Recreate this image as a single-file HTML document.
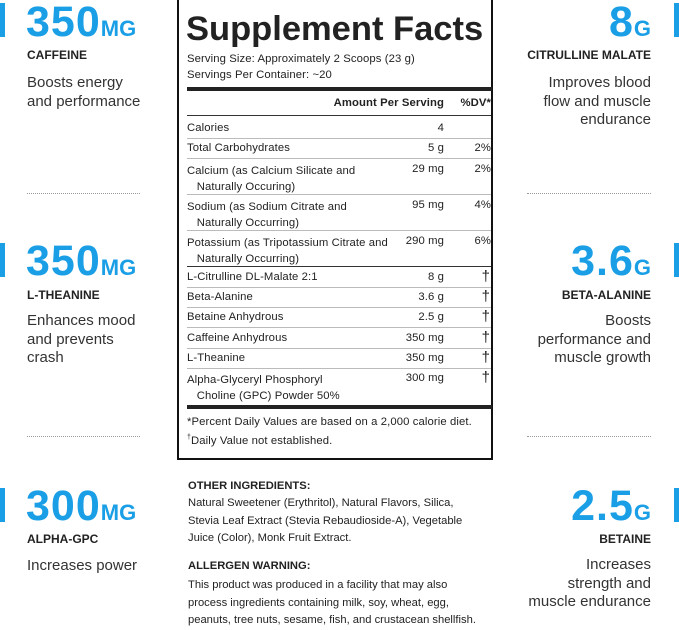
<!DOCTYPE html>
<html><head><meta charset="utf-8"><style>
*{margin:0;padding:0;box-sizing:border-box}
body{width:679px;height:624px;background:#fff;position:relative;overflow:hidden;font-family:"Liberation Sans",sans-serif;color:#222}
.a{position:absolute;white-space:nowrap}
.big{font-weight:bold;color:#1a9fe6;font-size:43px;letter-spacing:1px;line-height:42px}
.big small{font-size:22px;letter-spacing:0}
.bar{position:absolute;width:5px;height:34px;background:#1a9fe6}
.nm{font-weight:bold;font-size:12px;color:#222}
.ds{font-size:15px;line-height:18.5px;color:#333}
.r{text-align:right}
.dot{position:absolute;height:0;border-top:1px dotted #999}
.lab{position:absolute;left:177px;top:-3px;width:316px;height:463px;border:2px solid #111}
.t{font-size:11.3px;color:#222;letter-spacing:0.1px}
.ln{position:absolute;left:187px;width:304px;height:1px;background:#bbb}
.b{font-size:11.2px;letter-spacing:0}
</style></head><body>
<div class="bar" style="left:0;top:3px"></div>
<div class="a big" style="left:26px;top:1px">350<small>MG</small></div>
<div class="a nm" style="left:27px;top:48px">CAFFEINE</div>
<div class="a ds" style="left:27px;top:74px">Boosts energy<br>and performance</div>
<div class="dot" style="left:27px;width:113px;top:193px"></div>
<div class="bar" style="left:0;top:243px"></div>
<div class="a big" style="left:26px;top:240px">350<small>MG</small></div>
<div class="a nm" style="left:27px;top:288px">L-THEANINE</div>
<div class="a ds" style="left:27px;top:312px">Enhances mood<br>and prevents<br>crash</div>
<div class="dot" style="left:27px;width:113px;top:436px"></div>
<div class="bar" style="left:0;top:488px"></div>
<div class="a big" style="left:26px;top:485px">300<small>MG</small></div>
<div class="a nm" style="left:27px;top:532px">ALPHA-GPC</div>
<div class="a ds" style="left:27px;top:557px">Increases power</div>

<div class="bar" style="left:674px;top:3px"></div>
<div class="a big r" style="right:28px;top:1px">8<small>G</small></div>
<div class="a nm r" style="right:28px;top:48px">CITRULLINE MALATE</div>
<div class="a ds r" style="right:28px;top:74px">Improves blood<br>flow and muscle<br>endurance</div>
<div class="dot" style="left:527px;width:124px;top:193px"></div>
<div class="bar" style="left:674px;top:243px"></div>
<div class="a big r" style="right:28px;top:240px">3.6<small>G</small></div>
<div class="a nm r" style="right:28px;top:288px">BETA-ALANINE</div>
<div class="a ds r" style="right:28px;top:312px">Boosts<br>performance and<br>muscle growth</div>
<div class="dot" style="left:527px;width:124px;top:436px"></div>
<div class="bar" style="left:674px;top:488px"></div>
<div class="a big r" style="right:28px;top:485px">2.5<small>G</small></div>
<div class="a nm r" style="right:28px;top:532px">BETAINE</div>
<div class="a ds r" style="right:28px;top:556px">Increases<br>strength and<br>muscle endurance</div>

<div class="lab"></div>
<div class="a" style="left:186px;top:10px;font-size:34.5px;font-weight:bold;color:#222">Supplement Facts</div>
<div class="a t" style="left:187px;top:53px">Serving Size: Approximately 2 Scoops (23 g)</div>
<div class="a t" style="left:187px;top:69px">Servings Per Container: ~20</div>
<div style="position:absolute;left:187px;top:87px;width:305px;height:4px;background:#222"></div>
<div class="a t" style="right:235px;top:97px;font-weight:bold">Amount Per Serving</div>
<div class="a t" style="right:188px;top:97px;font-weight:bold">%DV*</div>
<div class="ln" style="top:115px;background:#333"></div>

<div class="a t" style="left:187px;top:122px">Calories</div><div class="a t" style="right:235px;top:122px">4</div>
<div class="ln" style="top:138px"></div>
<div class="a t" style="left:187px;top:142px">Total Carbohydrates</div><div class="a t" style="right:235px;top:142px">5 g</div><div class="a t" style="right:188px;top:142px">2%</div>
<div class="ln" style="top:158px"></div>
<div class="a t" style="left:187px;top:163px;line-height:16px">Calcium (as Calcium Silicate and<br>&nbsp;&nbsp;&nbsp;Naturally Occuring)</div><div class="a t" style="right:235px;top:163px">29 mg</div><div class="a t" style="right:188px;top:163px">2%</div>
<div class="ln" style="top:194px"></div>
<div class="a t" style="left:187px;top:199px;line-height:16px">Sodium (as Sodium Citrate and<br>&nbsp;&nbsp;&nbsp;Naturally Occurring)</div><div class="a t" style="right:235px;top:199px">95 mg</div><div class="a t" style="right:188px;top:199px">4%</div>
<div class="ln" style="top:230px"></div>
<div class="a t" style="left:187px;top:235px;line-height:16px">Potassium (as Tripotassium Citrate and<br>&nbsp;&nbsp;&nbsp;Naturally Occurring)</div><div class="a t" style="right:235px;top:235px">290 mg</div><div class="a t" style="right:188px;top:235px">6%</div>
<div class="ln" style="top:266px;background:#333"></div>
<div class="a t" style="left:187px;top:271px">L-Citrulline DL-Malate 2:1</div><div class="a t" style="right:235px;top:271px">8 g</div><div class="a" style="right:189px;top:268px;font-size:15px">†</div>
<div class="ln" style="top:287px"></div>
<div class="a t" style="left:187px;top:291px">Beta-Alanine</div><div class="a t" style="right:235px;top:291px">3.6 g</div><div class="a" style="right:189px;top:288px;font-size:15px">†</div>
<div class="ln" style="top:307px"></div>
<div class="a t" style="left:187px;top:311px">Betaine Anhydrous</div><div class="a t" style="right:235px;top:311px">2.5 g</div><div class="a" style="right:189px;top:308px;font-size:15px">†</div>
<div class="ln" style="top:327px"></div>
<div class="a t" style="left:187px;top:332px">Caffeine Anhydrous</div><div class="a t" style="right:235px;top:332px">350 mg</div><div class="a" style="right:189px;top:329px;font-size:15px">†</div>
<div class="ln" style="top:348px"></div>
<div class="a t" style="left:187px;top:352px">L-Theanine</div><div class="a t" style="right:235px;top:352px">350 mg</div><div class="a" style="right:189px;top:349px;font-size:15px">†</div>
<div class="ln" style="top:368px"></div>
<div class="a t" style="left:187px;top:372px;line-height:16px">Alpha-Glyceryl Phosphoryl<br>&nbsp;&nbsp;&nbsp;Choline (GPC) Powder 50%</div><div class="a t" style="right:235px;top:372px">300 mg</div><div class="a" style="right:189px;top:369px;font-size:15px">†</div>
<div style="position:absolute;left:187px;top:405px;width:305px;height:4px;background:#222"></div>
<div class="a t" style="left:187px;top:416px">*Percent Daily Values are based on a 2,000 calorie diet.</div>
<div class="a t" style="left:187px;top:434px"><sup style="font-size:7px">†</sup>Daily Value not established.</div>

<div class="a b" style="left:188px;top:478px;font-weight:bold;line-height:17.5px">OTHER INGREDIENTS:</div>
<div class="a b" style="left:188px;top:495px;line-height:17.5px">Natural Sweetener (Erythritol), Natural Flavors, Silica,<br>Stevia Leaf Extract (Stevia Rebaudioside-A), Vegetable<br>Juice (Color), Monk Fruit Extract.</div>
<div class="a b" style="left:188px;top:560px;font-weight:bold">ALLERGEN WARNING:</div>
<div class="a b" style="left:188px;top:577px;line-height:17.5px">This product was produced in a facility that may also<br>process ingredients containing milk, soy, wheat, egg,<br>peanuts, tree nuts, sesame, fish, and crustacean shellfish.</div>
</body></html>
